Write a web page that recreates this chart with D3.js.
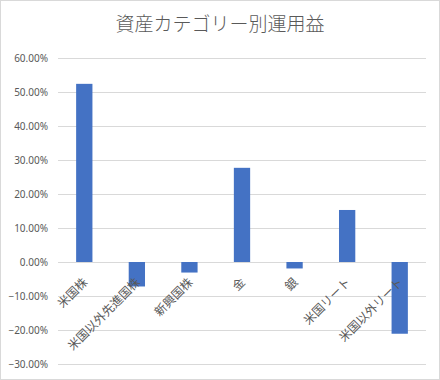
<!DOCTYPE html>
<html><head><meta charset="utf-8">
<script src="https://cdn.jsdelivr.net/npm/d3@7"></script>
<style>body{margin:0;background:#fff}svg{display:block}</style>
</head><body>
<script>
const title = "資産カテゴリー別運用益";
const categories = ["米国株","米国以外先進国株","新興国株","金","銀","米国リート","米国以外リート"];
const values = [0.524, -0.072, -0.031, 0.277, -0.019, 0.153, -0.211];
const yTicks = [-0.3,-0.2,-0.1,0,0.1,0.2,0.3,0.4,0.5,0.6];

const W = 440, H = 380;
const svg = d3.select("body").append("svg").attr("width", W).attr("height", H);
svg.append("rect").attr("x",0.5).attr("y",0.5).attr("width",W-1).attr("height",H-1)
  .attr("fill","#fff").attr("stroke","#d9d9d9");

const x = d3.scaleBand().domain(categories).range([58, 426]).paddingInner(0.69).paddingOuter(0.345);
const y = d3.scaleLinear().domain([-0.3, 0.6]).range([364, 58]);

svg.append("text").attr("x", 220).attr("y", 31).attr("text-anchor","middle")
  .attr("font-family","'Noto Sans CJK JP'").attr("font-weight",300).attr("font-size",19)
  .attr("fill","#595959").text(title);

const grid = svg.append("g");
grid.selectAll("line").data(yTicks).join("line")
  .attr("x1",58).attr("x2",426)
  .attr("y1",d=>Math.round(y(d))+0.5).attr("y2",d=>Math.round(y(d))+0.5)
  .attr("stroke","#d9d9d9").attr("stroke-width",1);

const yAxis = d3.axisLeft(y).tickValues(yTicks).tickFormat(d3.format(".2%")).tickSize(0).tickPadding(0);
const ya = svg.append("g").attr("transform","translate(48,0)").call(yAxis);
ya.select(".domain").remove();
ya.selectAll("text").attr("font-family","'Noto Sans'").attr("font-size",10).attr("fill","#595959");

svg.append("g").selectAll("rect").data(categories).join("rect")
  .attr("x", d => x(d))
  .attr("width", x.bandwidth())
  .attr("y", (d,i) => y(Math.max(0, values[i])))
  .attr("height", (d,i) => Math.abs(y(values[i]) - y(0)))
  .attr("fill", "#4472c4");

svg.append("g").selectAll("text").data(categories).join("text")
  .attr("transform", d => `translate(${x(d)+x.bandwidth()/2+4},283) rotate(-45)`)
  .attr("text-anchor","end")
  .attr("font-family","'Noto Sans CJK JP'").attr("font-size",12).attr("fill","#595959")
  .text(d => d);
</script>
</body></html>
